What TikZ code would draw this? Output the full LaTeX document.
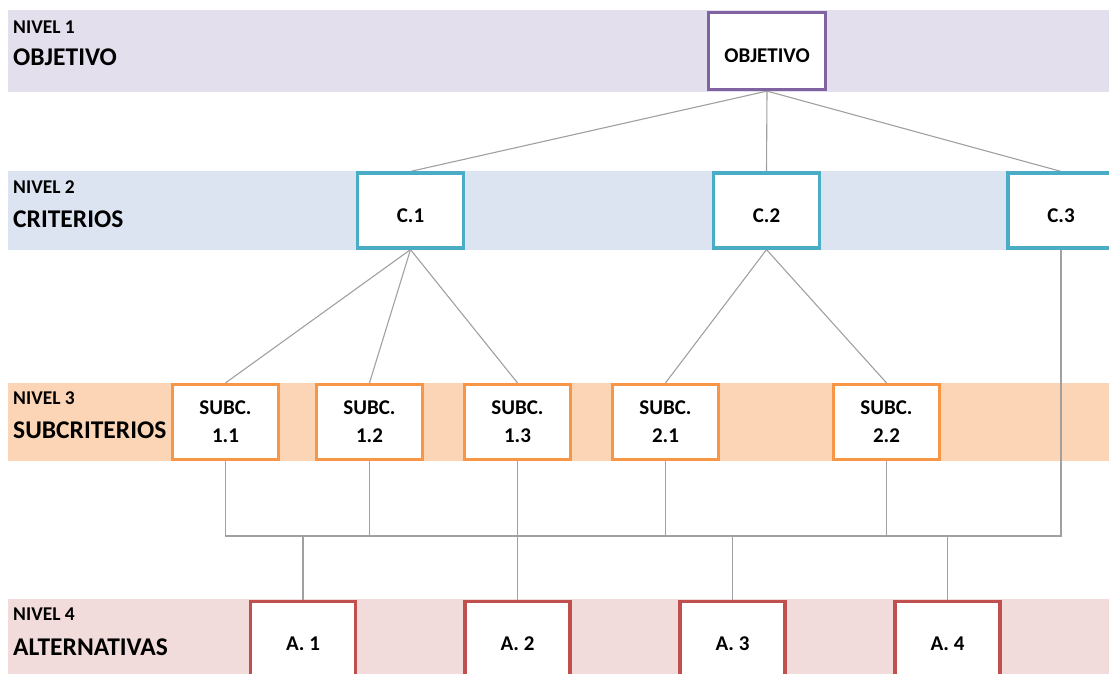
\documentclass[tikz,border=0pt]{standalone}
\usepackage{fontspec}
\setmainfont{Carlito}
\definecolor{bandA}{HTML}{E4DFEC}
\definecolor{bandB}{HTML}{DBE4F0}
\definecolor{bandC}{HTML}{FBD5B5}
\definecolor{bandD}{HTML}{F2DCDB}
\definecolor{purp}{HTML}{8064A2}
\definecolor{teal}{HTML}{4BACC6}
\definecolor{orng}{HTML}{F79646}
\definecolor{redd}{HTML}{C0504D}
\definecolor{conn}{HTML}{A0A0A0}
\pgfdeclarelayer{bands}
\pgfdeclarelayer{edges}
\pgfsetlayers{bands,edges,main}
\begin{document}
\begin{tikzpicture}[x=1pt,y=-1pt,
  box/.style={draw, fill=white, line width=3.2pt, rectangle, inner sep=0pt,
    font=\bfseries\fontsize{21}{28}\selectfont, align=center},
  onebox/.style={box, text height=23pt, text depth=0pt},
  objbox/.style={onebox, draw=purp, minimum width=117pt, minimum height=77pt},
  critbox/.style={onebox, draw=teal, minimum width=106pt, minimum height=75pt},
  subbox/.style={box, draw=orng, minimum width=106pt, minimum height=75pt},
  altbox/.style={onebox, draw=redd, minimum width=105pt, minimum height=75pt},
  lvl/.style={anchor=base west, inner sep=0pt, font=\bfseries\fontsize{19.5}{22}\selectfont},
  lvlname/.style={anchor=base west, inner sep=0pt, font=\bfseries\fontsize{25.5}{28}\selectfont},
  link/.style={draw=conn, line width=1.1pt}]
\useasboundingbox (0,0) rectangle (1109,673);
\clip (0,0) rectangle (1109,673);
% bands
\begin{pgfonlayer}{bands}
\fill[bandA] (8,10) rectangle (1109,92);
\fill[bandB] (8,171) rectangle (1109,250);
\fill[bandC] (8,383) rectangle (1109,461);
\fill[bandD] (8,599) rectangle (1109,680);
\end{pgfonlayer}
% level labels
\node[lvl] (n1) at (13,33) {NIVEL 1};
\node[lvlname] (l1) at (13,65) {OBJETIVO};
\node[lvl] (n2) at (13,193) {NIVEL 2};
\node[lvlname] (l2) at (13,227) {CRITERIOS};
\node[lvl] (n3) at (13,404) {NIVEL 3};
\node[lvlname] (l3) at (13,438) {SUBCRITERIOS};
\node[lvl] (n4) at (13,620) {NIVEL 4};
\node[lvlname] (l4) at (13,655) {ALTERNATIVAS};
% boxes
\node[objbox] (obj) at (767,51) {OBJETIVO};
\node[critbox] (c1) at (410.5,210.5) {C.1};
\node[critbox] (c2) at (766.5,210.5) {C.2};
\node[critbox] (c3) at (1061,210.5) {C.3};
\node[subbox] (s11) at (225.5,422) {SUBC.\\1.1};
\node[subbox] (s12) at (369.5,422) {SUBC.\\1.2};
\node[subbox] (s13) at (517.5,422) {SUBC.\\1.3};
\node[subbox] (s21) at (665.5,422) {SUBC.\\2.1};
\node[subbox] (s22) at (886.5,422) {SUBC.\\2.2};
\node[altbox] (a1) at (303,639) {A. 1};
\node[altbox] (a2) at (517.5,639) {A. 2};
\node[altbox] (a3) at (732.5,639) {A. 3};
\node[altbox] (a4) at (947.5,639) {A. 4};
\coordinate (bus) at (0,536);
% connectors
\begin{pgfonlayer}{edges}
\path[link] (obj.south) -- (c1.north);
\path[link] (obj.south) -- (c2.north);
\path[link] (obj.south) -- (c3.north);
\path[link] (c1.south) -- (s11.north);
\path[link] (c1.south) -- (s12.north);
\path[link] (c1.south) -- (s13.north);
\path[link] (c2.south) -- (s21.north);
\path[link] (c2.south) -- (s22.north);
\path[link] (s11.south) -- (s11.south |- bus) -- (c3.south |- bus) -- (c3.south);
\path[link] (s12.south) -- (s12.south |- bus);
\path[link] (s21.south) -- (s21.south |- bus);
\path[link] (s22.south) -- (s22.south |- bus);
\path[link] (s13.south) -- (a2.north);
\path[link] (a1.north) -- (a1.north |- bus);
\path[link] (a3.north) -- (a3.north |- bus);
\path[link] (a4.north) -- (a4.north |- bus);
\end{pgfonlayer}
\end{tikzpicture}
\end{document}
